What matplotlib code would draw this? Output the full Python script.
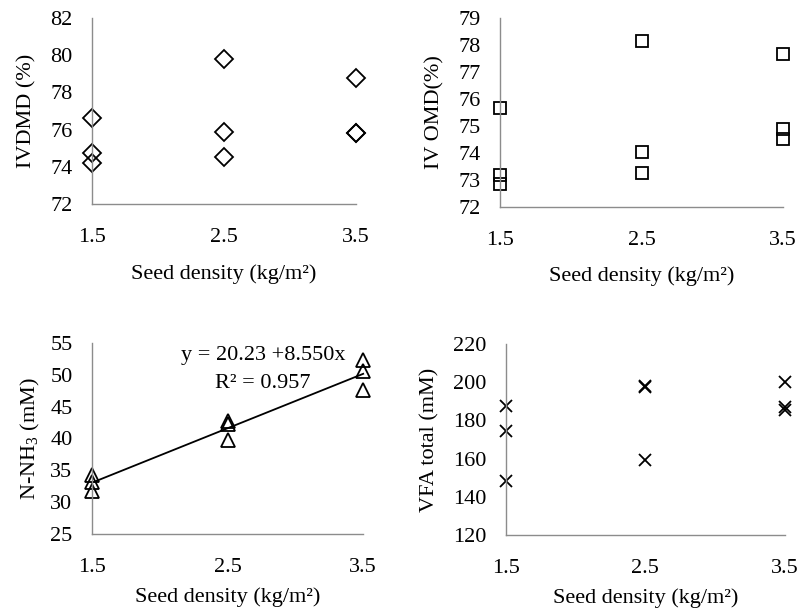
import matplotlib
matplotlib.use("Agg")
import matplotlib.pyplot as plt
import numpy as np

plt.rcParams['font.family'] = ['Liberation Serif', 'DejaVu Serif']
plt.rcParams['mathtext.fontset'] = 'custom'
plt.rcParams['mathtext.rm'] = 'Liberation Serif'

x_ticks = [1.5, 2.5, 3.5]
x_vals = [1.5, 1.5, 1.5, 2.5, 2.5, 2.5, 3.5, 3.5, 3.5]

ivdmd = [76.6, 74.75, 74.2, 79.8, 75.85, 74.5, 78.75, 75.8, 75.8]
ivomd = [75.65, 73.2, 72.85, 78.15, 74.05, 73.25, 77.65, 74.9, 74.5]
nnh3 = [34.2, 33.2, 31.8, 42.8, 42.2, 39.8, 52.3, 50.6, 47.6]
vfa = [187.8, 174.3, 148.3, 197.8, 197.4, 159.3, 199.9, 187.0, 185.6]

eq_text = "y = 20.23 +8.550x"
r2_text = "R² = 0.957"
xlabel = "Seed density (kg/m²)"

fig = plt.figure(figsize=(8, 6.1), dpi=100)
FS = 16
axcol = '#8c8c8c'

panels = [
    dict(rect=[0.115, 0.6656, 0.33, 0.3049], y=ivdmd, ylim=(72, 82), yt=[72, 74, 76, 78, 80, 82],
         marker='D', ms=9.5, ylabel='IVDMD (%)', lp=10, xlp=13),
    dict(rect=[0.625, 0.6607, 0.354, 0.3098], y=ivomd, ylim=(72, 79), yt=list(range(72, 80)),
         marker='s', ms=9, ylabel='IV OMD(%)', lp=10, xlp=12),
    dict(rect=[0.115, 0.1246, 0.339, 0.3131], y=nnh3, ylim=(25, 55), yt=[25, 30, 35, 40, 45, 50, 55],
         marker='^', ms=10, ylabel='N-NH$_3$ (mM)', lp=6, xlp=8),
    dict(rect=[0.6325, 0.123, 0.3485, 0.313], y=vfa, ylim=(120, 220), yt=[120, 140, 160, 180, 200, 220],
         marker='x', ms=8.5, ylabel='VFA total (mM)', lp=10, xlp=8),
]

for i, p in enumerate(panels):
    ax = fig.add_axes(p['rect'])
    if p['marker'] == 'x':
        ax.plot(x_vals, p['y'], linestyle='none', marker='x', ms=p['ms'], mew=1.3,
                color='black', clip_on=False)
    else:
        ax.plot(x_vals, p['y'], linestyle='none', marker=p['marker'], ms=p['ms'], mew=1.3,
                mfc='none', mec='black', clip_on=False)
    ax.set_xlim(1.5, 3.5)
    ax.set_ylim(*p['ylim'])
    ax.set_xticks(x_ticks)
    ax.set_xticklabels([str(t) for t in x_ticks])
    ax.set_yticks(p['yt'])
    ax.tick_params(length=0, labelsize=FS)
    ax.tick_params(axis='x', pad=17)
    ax.tick_params(axis='y', pad=14)
    for s in ['top', 'right']:
        ax.spines[s].set_visible(False)
    for s in ['left', 'bottom']:
        ax.spines[s].set_color(axcol)
        ax.spines[s].set_linewidth(1.0)
    ax.set_xlabel(xlabel, fontsize=FS, labelpad=p['xlp'])
    ax.set_ylabel(p['ylabel'], fontsize=FS, labelpad=p['lp'])
    ax.patch.set_visible(False)
    if i == 2:
        coef = np.polyfit(x_vals, p['y'], 1)
        xx = np.array([1.5, 3.5])
        ax.plot(xx, np.polyval(coef, xx), color='black', lw=1.3, clip_on=False)
        ax.text(2.76, 53.1, eq_text, ha='center', va='center', fontsize=FS)
        ax.text(2.76, 48.7, r2_text, ha='center', va='center', fontsize=FS)

fig.savefig('out.png', dpi=100)
